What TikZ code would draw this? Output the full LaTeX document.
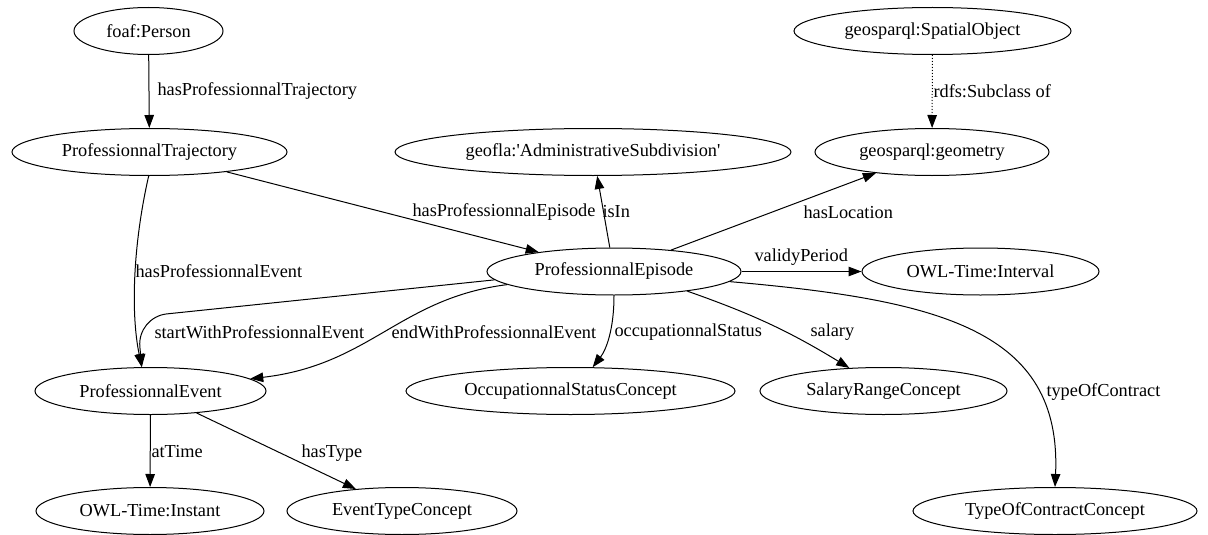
\documentclass[tikz,border=0pt]{standalone}
\usepackage{fontspec}
\setmainfont{Liberation Serif}
\usetikzlibrary{arrows.meta,shapes.geometric}

\begin{document}
\begin{tikzpicture}[x = 1pt, y = -1pt, font = \fontsize{18.3}{22}\selectfont,
  cls/.style = {draw, ellipse, line width = 1pt, inner sep = 0pt, minimum height = 47pt},
  rel/.style = {-{Triangle[length = 13pt, width = 9.5pt]}, line width = 1pt},
  lbl/.style = {anchor = west, inner sep = 0pt}]
\useasboundingbox (0,0) rectangle (1208,535);
% Classes
\node[cls, minimum width = 149pt] (person) at (148.5,31) {foaf:Person};
\node[cls, minimum width = 275pt] (traj) at (149.5,152) {ProfessionnalTrajectory};
\node[cls, minimum width = 396pt] (subdiv) at (593,152) {geofla:\textquotesingle AdministrativeSubdivision\textquotesingle};
\node[cls, minimum width = 277pt] (spatial) at (932.5,31) {geosparql:SpatialObject};
\node[cls, minimum width = 234pt] (geom) at (932,152) {geosparql:geometry};
\node[cls, minimum width = 254pt] (ep) at (614,271.5) {ProfessionnalEpisode};
\node[cls, minimum width = 237pt] (interval) at (980.5,271.5) {OWL-Time:Interval};
\node[cls, minimum width = 231pt] (pe) at (150.5,391) {ProfessionnalEvent};
\node[cls, minimum width = 329pt] (occ) at (570.5,391) {OccupationnalStatusConcept};
\node[cls, minimum width = 247pt] (salary) at (883.5,391) {SalaryRangeConcept};
\node[cls, minimum width = 228pt] (instant) at (150,511) {OWL-Time:Instant};
\node[cls, minimum width = 230pt] (evtype) at (402,511) {EventTypeConcept};
\node[cls, minimum width = 284pt] (contract) at (1055,511) {TypeOfContractConcept};
% Trajectory
\draw[rel] (person) -- (traj) node[lbl] at (157,91) {hasProfessionnalTrajectory};
\draw[rel] (traj) -- (ep) node[lbl] at (412,212) {hasProfessionnalEpisode};
\draw[rel] (traj.268) .. controls (134,240) and (130,310) .. (pe.110) node[lbl] at (135,271) {hasProfessionnalEvent};
% Episode
\draw[rel] (ep) -- (subdiv) node[lbl] at (602,212) {isIn};
\draw[rel] (ep) -- (geom) node[lbl] at (803,212) {hasLocation};
\draw[rel, dotted] (spatial) -- (geom) node[lbl] at (933,91) {rdfs:Subclass of};
\draw[rel] (ep) -- (interval) node[lbl] at (754,257) {validyPeriod};
\draw[rel, rounded corners = 30pt] (ep.184) -- (137,317) -- (pe.110) node[lbl] at (154,332) {startWithProfessionnalEvent};
\draw[rel] (ep.187) .. controls (400,298) and (370,365) .. (pe.7) node[lbl] at (391,332) {endWithProfessionnalEvent};
\draw[rel] (ep.270) .. controls (614,330) and (606,350) .. (occ.47) node[lbl] at (614,332) {occupationnalStatus};
\draw[rel] (ep.-15) to[bend left = 6] (salary.146) node[lbl] at (810,332) {salary};
\draw[rel] (ep.-5) .. controls (940,300) and (1062,330) .. (contract.90) node[lbl] at (1046,392) {typeOfContract};
% Event
\draw[rel] (pe) -- (instant) node[lbl] at (151,452) {atTime};
\draw[rel] (pe) -- (evtype) node[lbl] at (301,453) {hasType};
\end{tikzpicture}
\end{document}
